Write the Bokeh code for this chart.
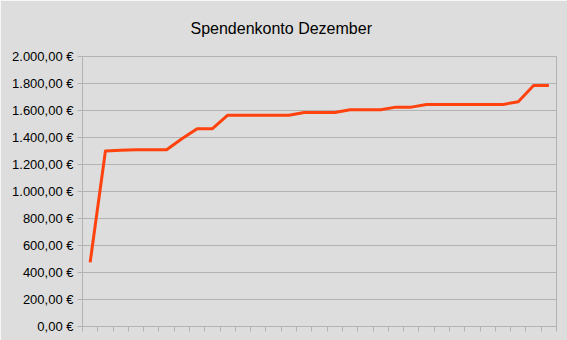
from bokeh.plotting import figure
from bokeh.models import FixedTicker, Range1d, CustomJSTickFormatter
from bokeh.embed import file_html
from bokeh.resources import INLINE

days = list(range(1, 32))
balance = [475, 1300, 1305, 1310, 1310, 1310, 1390, 1465, 1465,
           1565, 1565, 1565, 1565, 1565, 1585, 1585, 1585,
           1605, 1605, 1605, 1625, 1625, 1645, 1645, 1645, 1645, 1645, 1645,
           1665, 1785, 1785]
y_ticks = [0, 200, 400, 600, 800, 1000, 1200, 1400, 1600, 1800, 2000]
y_labels = ["0,00 €", "200,00 €", "400,00 €", "600,00 €", "800,00 €", "1.000,00 €",
            "1.200,00 €", "1.400,00 €", "1.600,00 €", "1.800,00 €", "2.000,00 €"]
title_text = "Spendenkonto Dezember"

BG = "#dddddd"
GRID = "#b3b3b3"

p = figure(width=567, height=340, output_backend="svg", toolbar_location=None,
           x_range=Range1d(0.5, len(days) + 0.5), y_range=Range1d(0, 2000),
           min_border_left=82, min_border_right=11, min_border_top=56, min_border_bottom=14)
p.background_fill_color = BG
p.border_fill_color = BG
p.outline_line_color = GRID

p.title.text = title_text
p.title.text_font = "Liberation Sans"
p.title.text_font_size = "16px"
p.title.text_font_style = "normal"
p.title.text_color = "#000000"
p.title.align = "left"
p.title.offset = 108
p.title.vertical_align = "top"
p.title.standoff = 36

p.line(days, balance, line_color="#ff420e", line_width=3, line_join="round")

p.xaxis.ticker = FixedTicker(ticks=[d - 0.5 for d in days] + [len(days) + 0.5])
p.xaxis.formatter = CustomJSTickFormatter(code="return '';")
p.xaxis.major_label_text_font_size = "13px"
p.xaxis.major_label_standoff = 0
p.xaxis.major_tick_out = 5
p.xaxis.major_tick_in = 0
p.xaxis.minor_tick_out = 0
p.xaxis.minor_tick_in = 0
p.xaxis.axis_line_color = GRID
p.xaxis.major_tick_line_color = GRID
p.xgrid.grid_line_color = None

p.yaxis.ticker = FixedTicker(ticks=y_ticks)
p.yaxis.major_label_overrides = {t: l for t, l in zip(y_ticks, y_labels)}
p.yaxis.major_label_text_font = "Liberation Sans"
p.yaxis.major_label_text_font_size = "13px"
p.yaxis.major_label_text_color = "#000000"
p.yaxis.major_tick_out = 5
p.yaxis.major_tick_in = 0
p.yaxis.minor_tick_out = 0
p.yaxis.minor_tick_in = 0
p.yaxis.major_label_standoff = 4
p.yaxis.axis_line_color = GRID
p.yaxis.major_tick_line_color = GRID
p.ygrid.grid_line_color = GRID
p.ygrid.grid_line_width = 1

open("out.html", "w").write(file_html(p, INLINE))
